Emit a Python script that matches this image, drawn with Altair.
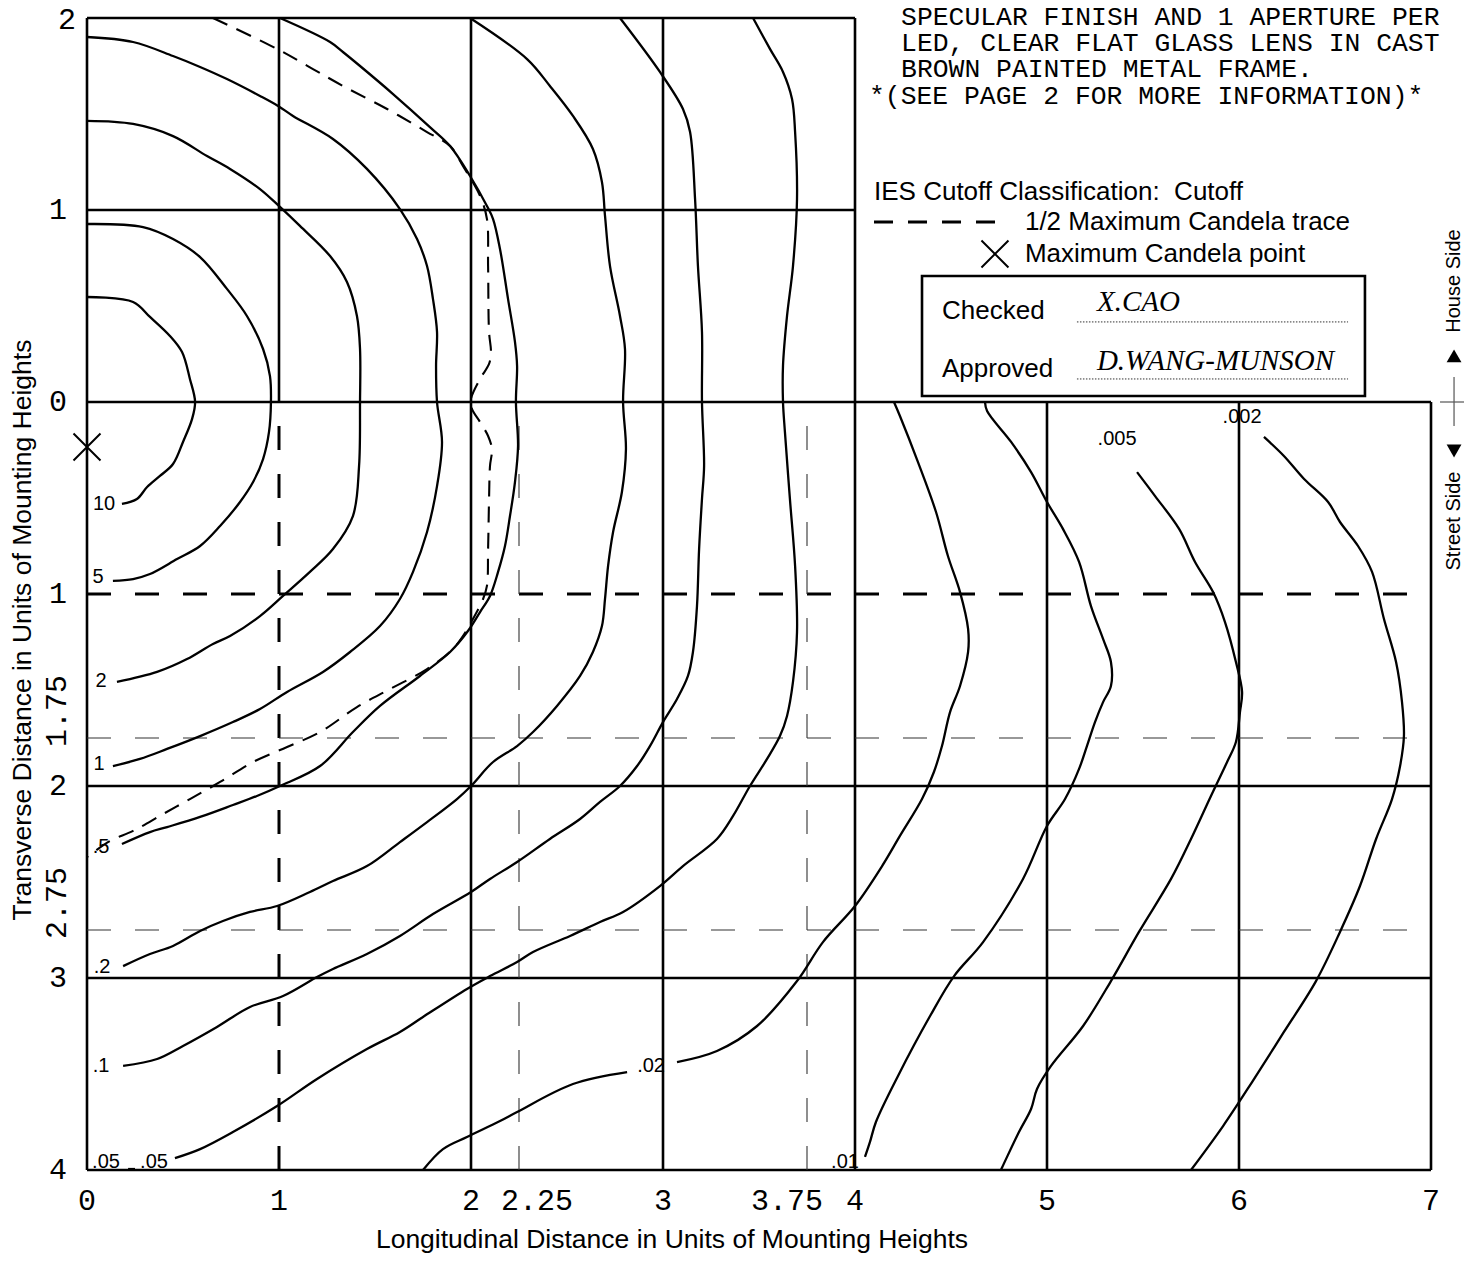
import altair as alt
import pandas as pd

# ---------------- values (units of mounting heights) ----------------
# x = longitudinal distance, y = transverse distance (negative = house side, positive = street side)
iso_10 = [(0.0, -0.547), (0.24, -0.521), (0.328, -0.443), (0.432, -0.344), (0.495, -0.26), (0.536, -0.12),
          (0.563, 0.0), (0.547, 0.089), (0.5, 0.208), (0.448, 0.323), (0.38, 0.385), (0.313, 0.443),
          (0.26, 0.505), (0.182, 0.531)]
iso_5 = [(0.0, -0.927), (0.292, -0.911), (0.448, -0.849), (0.589, -0.755), (0.729, -0.589), (0.833, -0.448),
         (0.917, -0.276), (0.953, -0.135), (0.958, 0.0), (0.948, 0.156), (0.917, 0.297), (0.865, 0.417),
         (0.797, 0.521), (0.693, 0.646), (0.589, 0.75), (0.469, 0.818), (0.328, 0.896), (0.24, 0.922),
         (0.135, 0.932)]
iso_2 = [(0.0, -1.464), (0.24, -1.448), (0.448, -1.385), (0.625, -1.281), (0.745, -1.214), (0.901, -1.109),
         (1.005, -1.016), (1.109, -0.917), (1.266, -0.76), (1.354, -0.625), (1.406, -0.448), (1.422, -0.276),
         (1.422, 0.0), (1.417, 0.333), (1.385, 0.594), (1.281, 0.766), (1.161, 0.885), (1.021, 1.01),
         (0.901, 1.115), (0.745, 1.219), (0.656, 1.26), (0.521, 1.339), (0.365, 1.406), (0.156, 1.458)]
iso_1 = [(0.0, -1.901), (0.24, -1.875), (0.448, -1.802), (0.589, -1.745), (0.729, -1.682), (0.901, -1.594),
         (0.995, -1.542), (1.073, -1.49), (1.281, -1.37), (1.458, -1.214), (1.63, -1.005), (1.719, -0.849),
         (1.771, -0.708), (1.802, -0.536), (1.823, -0.365), (1.818, -0.188), (1.823, 0.0), (1.849, 0.208),
         (1.823, 0.438), (1.771, 0.677), (1.698, 0.885), (1.63, 1.026), (1.526, 1.167), (1.37, 1.302),
         (1.229, 1.406), (1.042, 1.51), (0.901, 1.599), (0.76, 1.667), (0.589, 1.74), (0.417, 1.807),
         (0.276, 1.859), (0.135, 1.896)]
iso_p5 = [(1.005, -2.0), (1.266, -1.875), (1.333, -1.823), (1.422, -1.75), (1.594, -1.604), (1.786, -1.432),
          (1.891, -1.333), (1.995, -1.177), (2.083, -1.021), (2.115, -0.953), (2.151, -0.797), (2.193, -0.536),
          (2.229, -0.313), (2.24, -0.188), (2.234, 0.0), (2.245, 0.229), (2.229, 0.417), (2.203, 0.594),
          (2.177, 0.75), (2.141, 0.885), (2.099, 1.01), (2.047, 1.094), (1.984, 1.193), (1.891, 1.302),
          (1.734, 1.427), (1.526, 1.583), (1.385, 1.719), (1.214, 1.896), (1.005, 2.0), (0.885, 2.052),
          (0.76, 2.099), (0.589, 2.161), (0.417, 2.214), (0.328, 2.24), (0.182, 2.302)]
iso_p2 = [(1.995, -2.0), (2.292, -1.786), (2.411, -1.646), (2.531, -1.49), (2.635, -1.318), (2.682, -1.146),
          (2.698, -0.969), (2.724, -0.708), (2.776, -0.448), (2.802, -0.276), (2.792, 0.0), (2.807, 0.245),
          (2.786, 0.469), (2.74, 0.677), (2.714, 0.854), (2.698, 1.026), (2.682, 1.167), (2.635, 1.302),
          (2.568, 1.427), (2.448, 1.583), (2.323, 1.719), (2.24, 1.792), (2.115, 1.875), (2.0, 2.0),
          (1.927, 2.068), (1.771, 2.188), (1.63, 2.292), (1.458, 2.417), (1.281, 2.495), (1.161, 2.552),
          (0.99, 2.625), (0.849, 2.656), (0.708, 2.703), (0.589, 2.755), (0.448, 2.833), (0.328, 2.875),
          (0.188, 2.938)]
iso_p1 = [(2.776, -2.0), (2.984, -1.719), (3.104, -1.526), (3.141, -1.406), (3.167, -1.057), (3.182, -0.708),
          (3.203, -0.365), (3.203, 0.0), (3.214, 0.333), (3.203, 0.505), (3.188, 0.766), (3.177, 1.063),
          (3.156, 1.302), (3.13, 1.427), (3.073, 1.547), (3.0, 1.667), (2.932, 1.792), (2.865, 1.896),
          (2.776, 2.0), (2.672, 2.083), (2.568, 2.172), (2.411, 2.276), (2.24, 2.396), (2.099, 2.484),
          (2.0, 2.552), (1.802, 2.667), (1.63, 2.781), (1.458, 2.875), (1.281, 2.953), (1.198, 2.995),
          (1.021, 3.094), (0.849, 3.151), (0.677, 3.255), (0.5, 3.354), (0.365, 3.422), (0.188, 3.458)]
iso_p05 = [(3.469, -2.0), (3.557, -1.839), (3.625, -1.719), (3.672, -1.578), (3.688, -1.406), (3.698, -1.057),
           (3.677, -0.708), (3.646, -0.448), (3.625, -0.188), (3.625, 0.0), (3.635, 0.156), (3.661, 0.505),
           (3.688, 0.854), (3.698, 1.198), (3.677, 1.458), (3.646, 1.635), (3.609, 1.74), (3.542, 1.859),
           (3.453, 2.0), (3.365, 2.156), (3.281, 2.276), (3.104, 2.417), (2.984, 2.521), (2.792, 2.656),
           (2.672, 2.708), (2.516, 2.781), (2.323, 2.865), (2.24, 2.917), (2.099, 2.99), (1.979, 3.057),
           (1.75, 3.203), (1.63, 3.281), (1.458, 3.37), (1.198, 3.526), (0.99, 3.667), (0.76, 3.802),
           (0.589, 3.891), (0.458, 3.938)]
iso_p02a = [(4.203, 0.0), (4.234, 0.073), (4.328, 0.313), (4.422, 0.573), (4.484, 0.802), (4.547, 0.99),
            (4.589, 1.182), (4.589, 1.302), (4.547, 1.479), (4.495, 1.615), (4.453, 1.792), (4.411, 1.927),
            (4.349, 2.068), (4.234, 2.26), (4.141, 2.417), (4.0, 2.625), (3.833, 2.813), (3.698, 3.016),
            (3.49, 3.25), (3.281, 3.38), (3.073, 3.438)]
iso_p02b = [(2.813, 3.49), (2.531, 3.552), (2.24, 3.698), (2.151, 3.745), (1.979, 3.828), (1.854, 3.891),
            (1.75, 4.0)]
iso_p01 = [(4.677, 0.0), (4.688, 0.047), (4.813, 0.208), (4.917, 0.365), (5.0, 0.521), (5.083, 0.661),
           (5.167, 0.833), (5.229, 1.063), (5.292, 1.234), (5.333, 1.354), (5.333, 1.479), (5.292, 1.563),
           (5.25, 1.667), (5.208, 1.792), (5.167, 1.911), (5.094, 2.068), (5.0, 2.208), (4.875, 2.484),
           (4.667, 2.813), (4.516, 2.99), (4.391, 3.198), (4.224, 3.51), (4.109, 3.75), (4.078, 3.854),
           (4.052, 3.932)]
iso_p005 = [(5.469, 0.365), (5.563, 0.49), (5.688, 0.661), (5.771, 0.833), (5.865, 0.99), (5.927, 1.146),
            (5.984, 1.354), (6.016, 1.51), (6.005, 1.615), (5.984, 1.771), (5.938, 1.875), (5.854, 2.052),
            (5.75, 2.276), (5.646, 2.484), (5.479, 2.76), (5.333, 3.016), (5.188, 3.25), (5.021, 3.458),
            (4.948, 3.578), (4.917, 3.682), (4.854, 3.802), (4.76, 4.0)]
iso_p002 = [(6.13, 0.182), (6.234, 0.281), (6.339, 0.401), (6.464, 0.521), (6.526, 0.625), (6.62, 0.75),
            (6.693, 0.885), (6.755, 1.13), (6.818, 1.354), (6.849, 1.563), (6.859, 1.74), (6.839, 1.896),
            (6.797, 2.068), (6.714, 2.276), (6.63, 2.521), (6.526, 2.76), (6.401, 3.016), (6.234, 3.281),
            (6.068, 3.542), (5.917, 3.771), (5.75, 4.0)]
iso_p05_stub = [(0.214, 3.995), (0.25, 3.995)]

half_max_trace = [(0.656, -2.0), (0.99, -1.839), (1.177, -1.734), (1.333, -1.646), (1.563, -1.526),
                  (1.771, -1.406), (1.891, -1.333), (1.958, -1.229), (2.047, -1.073), (2.083, -0.953),
                  (2.089, -0.708), (2.094, -0.365), (2.104, -0.26), (2.094, -0.198), (2.047, -0.12),
                  (2.0, -0.016), (2.005, 0.036), (2.047, 0.104), (2.089, 0.177), (2.109, 0.245),
                  (2.099, 0.333), (2.094, 0.505), (2.089, 0.766), (2.083, 0.958), (2.063, 1.026),
                  (2.01, 1.13), (1.958, 1.219), (1.906, 1.286), (1.771, 1.391), (1.578, 1.495),
                  (1.406, 1.589), (1.214, 1.719), (1.042, 1.797), (0.865, 1.875), (0.693, 1.979),
                  (0.536, 2.068), (0.396, 2.146), (0.24, 2.234), (0.12, 2.286), (0.0, 2.37)]
max_candela_x = [0.0]
max_candela_y = [0.234]

label_text = ["10", "5", "2", "1", ".5", ".2", ".1", ".05", ".05", ".02", ".01", ".005", ".002"]
label_x = [0.089, 0.057, 0.073, 0.063, 0.073, 0.078, 0.073, 0.099, 0.349, 2.938, 3.948, 5.365, 6.016]
label_y = [0.531, 0.911, 1.453, 1.885, 2.318, 2.943, 3.458, 3.958, 3.958, 3.458, 3.958, 0.193, 0.078]

# grid
solid_v_x = [0, 1, 2, 3, 4, 5, 6, 7]
solid_v_from = [-2, -2, -2, -2, -2, 0, 0, 0]
solid_v_to = [4, 0, 4, 4, 4, 4, 4, 4]
solid_h_y = [-2, -1, 0, 2, 3, 4]
solid_h_from = [0, 0, 0, 0, 0, 0]
solid_h_to = [4, 4, 7, 7, 7, 7]
major_dash_x = [1]
major_dash_y = [1]
minor_dash_x = [2.25, 3.75]
minor_dash_y = [1.75, 2.75]

# tick labels
x_ticks = [0, 1, 2, 3, 4, 5, 6, 7]
x_tick_text = ["0", "1", "2", "3", "4", "5", "6", "7"]
y_ticks = [-1, 0, 1, 2, 3, 4]
y_tick_text = ["1", "0", "1", "2", "3", "4"]

# annotations
note_lines = ["SPECULAR FINISH AND 1 APERTURE PER", "LED, CLEAR FLAT GLASS LENS IN CAST",
              "BROWN PAINTED METAL FRAME.", "*(SEE PAGE 2 FOR MORE INFORMATION)*"]
note_x = [4.24, 4.24, 4.24, 4.073]
note_y = [-2.005, -1.872, -1.734, -1.594]
legend_text = ["IES Cutoff Classification:\u00a0 Cutoff", "1/2 Maximum Candela trace",
               "Maximum Candela point", "Checked", "Approved"]
legend_x = [4.099, 4.885, 4.885, 4.453, 4.453]
legend_y = [-1.094, -0.938, -0.771, -0.474, -0.172]
sign_text = ["X.CAO", "D.WANG-MUNSON"]
sign_x = [5.26, 5.26]
sign_y = [-0.521, -0.214]
sign_line_y = [-0.417, -0.12]

# ---------------- chart ----------------
W, H = 1344, 1152
MONO, SANS, SERIF = "Liberation Mono", "Liberation Sans", "Liberation Serif"
xs = alt.Scale(domain=[0, 7], nice=False, zero=False)
ys = alt.Scale(domain=[-2, 4], nice=False, zero=False, reverse=True)


def X(f):
    return alt.X(f, type="quantitative", scale=xs, axis=None)


def Y(f):
    return alt.Y(f, type="quantitative", scale=ys, axis=None)


def pts_df(d):
    rows = []
    for name, pts in d.items():
        for i, (x, y) in enumerate(pts):
            rows.append({"curve": name, "i": i, "x": x, "y": y})
    return pd.DataFrame(rows)


iso_df = pts_df({"10": iso_10, "5": iso_5, "2": iso_2, "1": iso_1, ".5": iso_p5, ".2": iso_p2,
                 ".1": iso_p1, ".05": iso_p05, ".05s": iso_p05_stub, ".02a": iso_p02a, ".02b": iso_p02b,
                 ".01": iso_p01, ".005": iso_p005, ".002": iso_p002})
trace_df = pts_df({"trace": half_max_trace})

GRID_W = 2.6
LINE_W = 2.3
layers = []

# solid grid
layers.append(alt.Chart(pd.DataFrame({"x": solid_v_x, "a": solid_v_from, "b": solid_v_to}))
              .mark_rule(color="black", strokeWidth=GRID_W)
              .encode(x=X("x"), y=Y("a"), y2=alt.Y2("b")))
layers.append(alt.Chart(pd.DataFrame({"y": solid_h_y, "a": solid_h_from, "b": solid_h_to}))
              .mark_rule(color="black", strokeWidth=GRID_W)
              .encode(y=Y("y"), x=X("a"), x2=alt.X2("b")))
# heavy dashed lines at 1 MH
layers.append(alt.Chart(pd.DataFrame({"x": major_dash_x, "a": [0] * len(major_dash_x), "b": [4] * len(major_dash_x)}))
              .mark_rule(color="black", strokeWidth=3, strokeDash=[24, 24], strokeDashOffset=24)
              .encode(x=X("x"), y=Y("a"), y2=alt.Y2("b")))
layers.append(alt.Chart(pd.DataFrame({"y": major_dash_y, "a": [0] * len(major_dash_y), "b": [7] * len(major_dash_y)}))
              .mark_rule(color="black", strokeWidth=3, strokeDash=[24, 24])
              .encode(y=Y("y"), x=X("a"), x2=alt.X2("b")))
# light dashed lines
layers.append(alt.Chart(pd.DataFrame({"x": minor_dash_x, "a": [0] * len(minor_dash_x), "b": [4] * len(minor_dash_x)}))
              .mark_rule(color="#333333", strokeWidth=1.1, strokeDash=[24, 24], strokeDashOffset=24)
              .encode(x=X("x"), y=Y("a"), y2=alt.Y2("b")))
layers.append(alt.Chart(pd.DataFrame({"y": minor_dash_y, "a": [0] * len(minor_dash_y), "b": [7] * len(minor_dash_y)}))
              .mark_rule(color="#333333", strokeWidth=1.1, strokeDash=[24, 24])
              .encode(y=Y("y"), x=X("a"), x2=alt.X2("b")))

# isofootcandle lines
layers.append(alt.Chart(iso_df)
              .mark_line(color="black", strokeWidth=LINE_W, interpolate="catmull-rom")
              .encode(x=X("x"), y=Y("y"), detail="curve:N", order="i:Q"))
# half max candela trace
layers.append(alt.Chart(trace_df)
              .mark_line(color="black", strokeWidth=2.1, strokeDash=[16, 10], interpolate="catmull-rom")
              .encode(x=X("x"), y=Y("y"), detail="curve:N", order="i:Q"))

XSHAPE = "M-1,-1L1,1M-1,1L1,-1"
# maximum candela point
layers.append(alt.Chart(pd.DataFrame({"x": max_candela_x, "y": max_candela_y}))
              .mark_point(shape=XSHAPE, size=729, filled=False, color="black", strokeWidth=2, opacity=1)
              .encode(x=X("x"), y=Y("y")))

# contour labels
layers.append(alt.Chart(pd.DataFrame({"t": label_text, "x": label_x, "y": label_y}))
              .mark_text(font=SANS, fontSize=20, align="center", baseline="middle", color="black")
              .encode(x=X("x"), y=Y("y"), text="t:N"))

# x tick labels
layers.append(alt.Chart(pd.DataFrame({"v": x_ticks, "t": x_tick_text}))
              .mark_text(font=MONO, fontSize=30, align="center", baseline="middle", dy=31, color="black")
              .encode(x=X("v"), y=alt.value(H), text="t:N"))
layers.append(alt.Chart(pd.DataFrame({"v": [2.25], "t": ["2.25"]}))
              .mark_text(font=MONO, fontSize=30, align="center", baseline="middle", dy=31, dx=18, color="black")
              .encode(x=X("v"), y=alt.value(H), text="t:N"))
layers.append(alt.Chart(pd.DataFrame({"v": [3.75], "t": ["3.75"]}))
              .mark_text(font=MONO, fontSize=30, align="center", baseline="middle", dy=31, dx=-20, color="black")
              .encode(x=X("v"), y=alt.value(H), text="t:N"))
# y tick labels
layers.append(alt.Chart(pd.DataFrame({"v": y_ticks, "t": y_tick_text}))
              .mark_text(font=MONO, fontSize=30, align="right", baseline="middle", dx=-20, color="black")
              .encode(x=alt.value(0), y=Y("v"), text="t:N"))
layers.append(alt.Chart(pd.DataFrame({"v": [-2], "t": ["2"]}))
              .mark_text(font=MONO, fontSize=30, align="right", baseline="middle", dx=-11, dy=2, color="black")
              .encode(x=alt.value(0), y=Y("v"), text="t:N"))
layers.append(alt.Chart(pd.DataFrame({"v": [1.75, 2.75], "t": ["1.75", "2.75"]}))
              .mark_text(font=MONO, fontSize=30, align="center", baseline="middle", angle=270, dx=27, dy=-30,
                         color="black")
              .encode(x=alt.value(0), y=Y("v"), text="t:N"))

# axis titles
layers.append(alt.Chart(pd.DataFrame({"t": ["Longitudinal Distance in Units of Mounting Heights"]}))
              .mark_text(font=SANS, fontSize=26.5, align="center", baseline="alphabetic", color="black")
              .encode(x=alt.value(585), y=alt.value(1230), text="t:N"))
layers.append(alt.Chart(pd.DataFrame({"t": ["Transverse Distance in Units of Mounting Heights"]}))
              .mark_text(font=SANS, fontSize=26.5, align="center", baseline="middle", angle=270, color="black")
              .encode(x=alt.value(-64), y=alt.value(612), text="t:N"))

# description note
layers.append(alt.Chart(pd.DataFrame({"t": note_lines, "x": note_x, "y": note_y}))
              .mark_text(font=MONO, fontSize=26.4, align="left", baseline="middle", color="black")
              .encode(x=X("x"), y=Y("y"), text="t:N"))
# legend texts
layers.append(alt.Chart(pd.DataFrame({"t": legend_text[:3], "x": legend_x[:3], "y": legend_y[:3]}))
              .mark_text(font=SANS, fontSize=26, align="left", baseline="middle", color="black")
              .encode(x=X("x"), y=Y("y"), text="t:N"))
layers.append(alt.Chart(pd.DataFrame({"a": [4.099], "b": [4.802], "y": [-0.938]}))
              .mark_rule(color="black", strokeWidth=3, strokeDash=[19, 15])
              .encode(y=Y("y"), x=X("a"), x2=alt.X2("b")))
layers.append(alt.Chart(pd.DataFrame({"x": [4.729], "y": [-0.771]}))
              .mark_point(shape=XSHAPE, size=729, filled=False, color="black", strokeWidth=2, opacity=1)
              .encode(x=X("x"), y=Y("y")))
# checked / approved box
layers.append(alt.Chart(pd.DataFrame({"a": [4.349], "b": [6.656], "c": [-0.656], "d": [-0.031]}))
              .mark_rect(fill="white", stroke="black", strokeWidth=2.6)
              .encode(x=X("a"), x2=alt.X2("b"), y=Y("c"), y2=alt.Y2("d")))
layers.append(alt.Chart(pd.DataFrame({"t": legend_text[3:], "x": legend_x[3:], "y": legend_y[3:]}))
              .mark_text(font=SANS, fontSize=26, align="left", baseline="middle", color="black")
              .encode(x=X("x"), y=Y("y"), text="t:N"))
layers.append(alt.Chart(pd.DataFrame({"y": sign_line_y, "a": [5.156] * 2, "b": [6.568] * 2}))
              .mark_rule(color="#333333", strokeWidth=1, strokeDash=[1.5, 1.5])
              .encode(y=Y("y"), x=X("a"), x2=alt.X2("b")))
layers.append(alt.Chart(pd.DataFrame({"t": sign_text, "x": sign_x, "y": sign_y}))
              .mark_text(font=SERIF, fontSize=29, fontStyle="italic", align="left", baseline="middle",
                         color="black")
              .encode(x=X("x"), y=Y("y"), text="t:N"))

# house side / street side marker
layers.append(alt.Chart(pd.DataFrame({"t": ["House Side", "Street Side"], "x": [7.12, 7.12], "y": [-0.63, 0.62]}))
              .mark_text(font=SANS, fontSize=20, align="center", baseline="middle", angle=270, color="black")
              .encode(x=X("x"), y=Y("y"), text="t:N"))
layers.append(alt.Chart(pd.DataFrame({"x": [7.12], "y": [-0.24]}))
              .mark_point(shape="triangle-up", size=220, filled=True, color="black", opacity=1)
              .encode(x=X("x"), y=Y("y")))
layers.append(alt.Chart(pd.DataFrame({"x": [7.12], "y": [0.255]}))
              .mark_point(shape="triangle-down", size=220, filled=True, color="black", opacity=1)
              .encode(x=X("x"), y=Y("y")))
layers.append(alt.Chart(pd.DataFrame({"x": [7.12], "a": [-0.13], "b": [0.125]}))
              .mark_rule(color="#555555", strokeWidth=1.2)
              .encode(x=X("x"), y=Y("a"), y2=alt.Y2("b")))
layers.append(alt.Chart(pd.DataFrame({"y": [0], "a": [7.047], "b": [7.172]}))
              .mark_rule(color="#555555", strokeWidth=1.2)
              .encode(y=Y("y"), x=X("a"), x2=alt.X2("b")))

chart = (alt.layer(*layers)
         .properties(width=W, height=H,
                     padding={"left": 79, "top": 10, "right": 37, "bottom": 84},
                     autosize=alt.AutoSizeParams(type="none"))
         .configure_view(strokeOpacity=0))

chart.save("out.html", embed_options={"renderer": "svg", "actions": False})
